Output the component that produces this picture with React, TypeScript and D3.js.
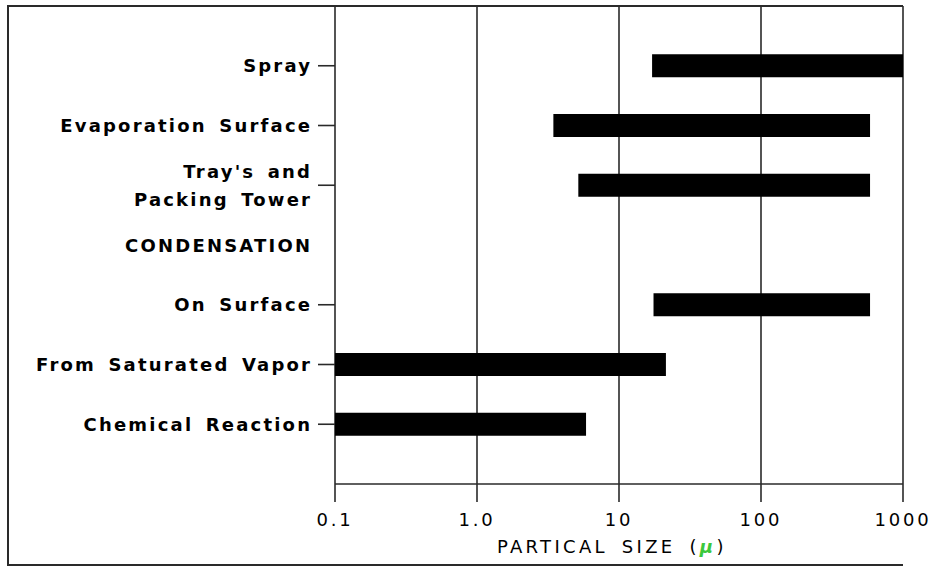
import React from "react";
import * as d3 from "d3";

const categories: string[][] = [
  ["Spray"],
  ["Evaporation Surface"],
  ["Tray's and", "Packing Tower"],
  ["CONDENSATION"],
  ["On Surface"],
  ["From Saturated Vapor"],
  ["Chemical Reaction"],
];
const rangeMin: (number | null)[] = [17.1, 3.45, 5.17, null, 17.5, 0.1, 0.1];
const rangeMax: (number | null)[] = [1000, 586, 586, null, 586, 21.4, 5.86];
const tickValues = [0.1, 1, 10, 100, 1000];
const tickLabels = ["0.1", "1.0", "10", "100", "1000"];
const axisTitle = "PARTICAL SIZE (";
const unitSymbol = "μ";

export default function App() {
  const W = 932, H = 570;
  const left = 335, right = 903, top = 6, bottom = 484;
  const x = d3.scaleLog().domain([0.1, 1000]).range([left, right]);
  const y = d3.scaleLinear().domain([0, categories.length + 1]).range([top, bottom]);
  const barH = 23;
  const font = "'DejaVu Sans', sans-serif";
  const fs = 18;
  const fw = 600;
  const ls = 2.2;
  const stroke = "#2a2a2a";

  return (
    <svg width={W} height={H} style={{ position: "absolute", left: 0, top: 0, background: "#fff" }}>
      {/* outer frame */}
      <path d={`M${right},${top} L8,${top} L8,565 L${right},565`} fill="none" stroke={stroke} strokeWidth={2} />
      {/* vertical grid lines + bottom ticks */}
      {tickValues.map((t, i) => (
        <line key={"g" + i} x1={x(t)} x2={x(t)} y1={top} y2={bottom + 18} stroke={stroke} strokeWidth={1.6} />
      ))}
      {/* bottom axis line */}
      <line x1={left} x2={right} y1={bottom} y2={bottom} stroke={stroke} strokeWidth={1.6} />
      {/* bars */}
      {categories.map((c, i) => {
        const a = rangeMin[i], b = rangeMax[i];
        if (a == null || b == null) return null;
        return (
          <rect key={"b" + i} x={x(a)} width={x(b) - x(a)} y={y(i + 1) - barH / 2} height={barH} fill="#000" />
        );
      })}
      {/* category ticks */}
      {categories.map((c, i) =>
        rangeMin[i] == null ? null : (
          <line key={"t" + i} x1={left - 17} x2={left} y1={y(i + 1)} y2={y(i + 1)} stroke={stroke} strokeWidth={1.6} />
        )
      )}
      {/* category labels */}
      {categories.map((lines, i) =>
        lines.map((ln, j) => (
          <text
            key={"l" + i + "_" + j}
            x={310 + ls}
            y={y(i + 1) + 6.5 - ((lines.length - 1) * 27.5) / 2 + j * 27.5}
            textAnchor="end"
            fontFamily={font}
            fontSize={fs}
            fontWeight={fw}
            letterSpacing={ls}
            wordSpacing={4}
            fill="#000"
          >
            {ln}
          </text>
        ))
      )}
      {/* tick labels */}
      {tickValues.map((t, i) => (
        <text
          key={"x" + i}
          x={x(t)}
          y={526}
          textAnchor="middle"
          fontFamily={font}
          fontSize={fs}
          letterSpacing={2.8}
          fill="#000"
        >
          {tickLabels[i]}
        </text>
      ))}
      {/* axis title */}
      <text x={497} y={553} fontFamily={font} fontSize={fs} letterSpacing={3.3} wordSpacing={5} fill="#000">
        {axisTitle}
        <tspan fill="#3cc83c" fontStyle="italic" fontWeight={700}>{unitSymbol}</tspan>
        {")"}
      </text>
    </svg>
  );
}
